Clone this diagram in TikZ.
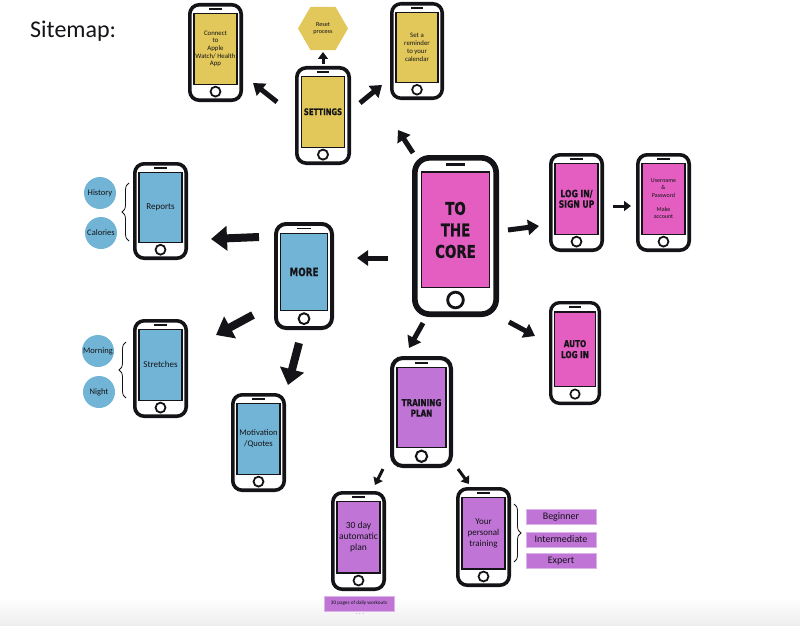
\documentclass[tikz,border=0pt]{standalone}
\usepackage{fontspec}
\setmainfont{Carlito}
\newfontfamily\impact[FakeStretch=0.85,FakeBold=0.8]{DejaVu Sans Condensed}
\usetikzlibrary{arrows.meta,shapes.geometric,decorations.pathreplacing}
\definecolor{pyellow}{HTML}{E2C75A}
\definecolor{ppink}{HTML}{E35EC0}
\definecolor{pblue}{HTML}{72B4D5}
\definecolor{ppurple}{HTML}{BF74D6}
\definecolor{ink}{HTML}{141418}
\tikzset{
  phonebody/.style={draw=ink, fill=white, inner sep=0pt},
  screen/.style={draw=ink, line width=1.2pt, inner sep=0pt, align=center, text=ink},
  medarr/.style={-{Triangle[length=11pt,width=15pt]}, line width=5pt, draw=ink},
  bigarr/.style={-{Triangle[length=16pt,width=24pt]}, line width=8pt, draw=ink},
  smallarr/.style={-{Triangle[length=7pt,width=10pt]}, line width=3pt, draw=ink},
  bubble/.style={circle, fill=pblue, minimum size=32pt, inner sep=0pt, text=ink, font=\fontsize{8.5}{10}\selectfont},
  tag/.style={rectangle, fill=ppurple, draw=ppurple!55, line width=0.8pt, minimum width=70pt, minimum height=15pt, inner sep=0pt, text=ink, font=\fontsize{10}{12}\selectfont},
  curly/.style={decorate, decoration={brace, amplitude=7pt}, draw=ink, line width=0.8pt},
}
% #1 name, #2 left, #3 top, #4 right, #5 bottom, #6 colour, #7 font, #8 text
\newcommand\phone[8]{%
  \pgfmathsetmacro\pw{#4-#2}%
  \pgfmathsetmacro\ph{#5-#3}%
  \pgfmathsetmacro\plw{0.065*\pw}%
  \pgfmathsetmacro\pwi{\pw-\plw}%
  \pgfmathsetmacro\phi{\ph-\plw}%
  \pgfmathsetmacro\prc{0.17*\pw}%
  \pgfmathsetmacro\pcx{(#2+#4)/2}%
  \pgfmathsetmacro\pcy{(#3+#5)/2}%
  \pgfmathsetmacro\psy{#3+0.4625*\ph}%
  \pgfmathsetmacro\psw{0.78*\pw}%
  \pgfmathsetmacro\psh{0.715*\ph}%
  \pgfmathsetmacro\spy{#3+0.06*\ph}%
  \pgfmathsetmacro\spl{0.11*\pw}%
  \pgfmathsetmacro\hby{#5-0.105*\ph}%
  \pgfmathsetmacro\hbs{0.18*\pw}%
  \pgfmathsetmacro\hbl{0.5*\plw}%
  \node[phonebody, line width=\plw pt, rounded corners=\prc pt, minimum width=\pwi pt, minimum height=\phi pt] (#1) at (\pcx,\pcy) {};
  \node[screen, fill=#6, minimum width=\psw pt, minimum height=\psh pt, font=#7] (#1-s) at (\pcx,\psy) {#8};
  \draw[ink, line width=\hbl pt] ({\pcx-\spl},\spy) -- ({\pcx+\spl},\spy);
  \node[circle, draw=ink, line width=\hbl pt, minimum size=\hbs pt, inner sep=0pt] (#1-h) at (\pcx,\hby) {};
}
\begin{document}
\begin{tikzpicture}[x=1pt,y=-1pt]
\useasboundingbox (0,0) rectangle (800,626);
\shade[top color=white, bottom color=black!7] (0,598) rectangle (800,626);

\node[anchor=base west, text=ink, font=\fontsize{24}{28}\selectfont, inner sep=0pt] (title) at (30,37.5) {Sitemap:};

% settings cluster
\phone{connect}{188}{3}{243}{102}{pyellow}{\fontsize{6.8}{7.6}\selectfont}{Connect\\to\\Apple\\Watch/ Health\\App}
\phone{settings}{295}{66}{351}{165}{pyellow}{\impact\bfseries\fontsize{9}{11}\selectfont}{SETTINGS}
\phone{reminder}{390}{2}{444}{100}{pyellow}{\fontsize{6.8}{7.9}\selectfont}{Set a\\reminder\\to your\\calendar}
\node[regular polygon, regular polygon sides=6, minimum size=50pt, fill=pyellow, inner sep=0pt, align=center, text=ink, font=\fontsize{6.2}{7.4}\selectfont] (reset) at (323,28.5) {Reset\\process};

% core
\phone{core}{412}{155}{499}{317}{ppink}{\impact\bfseries\fontsize{17.5}{21.5}\selectfont}{TO\\THE\\CORE}
\phone{login}{549}{153}{604}{252}{ppink}{\impact\bfseries\fontsize{10}{10.5}\selectfont}{LOG IN/\\SIGN UP}
\phone{account}{636}{153}{691}{252}{ppink}{\fontsize{6}{7.3}\selectfont}{Username\\\&\\Password\\[7.3pt]Make\\account}
\phone{auto}{549}{301}{601}{405}{ppink}{\impact\bfseries\fontsize{9.5}{11}\selectfont}{AUTO\\LOG IN}

% more cluster
\phone{reports}{133}{162}{188}{260}{pblue}{\fontsize{9}{11}\selectfont}{Reports}
\phone{more}{274}{222}{334}{330}{pblue}{\impact\bfseries\fontsize{11.5}{13}\selectfont}{MORE}
\phone{stretches}{133}{319}{188}{418}{pblue}{\fontsize{9}{11}\selectfont}{Stretches}
\phone{motiv}{231}{393}{286}{492}{pblue}{\fontsize{8.6}{10.5}\selectfont}{Motivation\\/Quotes}
\node[bubble] (history) at (100,193) {History};
\node[bubble] (calories) at (101,233) {Calories};
\node[bubble] (morning) at (98,351) {Morning};
\node[bubble] (night) at (99,392) {Night};
\coordinate (b1a) at (129,241); \coordinate (b1b) at (129,183);
\draw[curly] (b1a) -- (b1b);
\coordinate (b2a) at (126,398); \coordinate (b2b) at (126,342);
\draw[curly] (b2a) -- (b2b);

% training cluster
\phone{training}{390}{356}{453}{468}{ppurple}{\impact\bfseries\fontsize{9.5}{10.5}\selectfont}{TRAINING\\PLAN}
\phone{day30}{331}{491}{386}{591}{ppurple}{\fontsize{9.5}{11}\selectfont}{30 day\\automatic\\plan}
\phone{personal}{456}{487}{511}{587}{ppurple}{\fontsize{9}{11}\selectfont}{Your\\personal\\training}
\coordinate (b3a) at (514,504); \coordinate (b3b) at (514,562);
\draw[curly] (b3a) -- (b3b);
\node[tag] (beginner) at (561,516.5) {Beginner};
\node[tag] (intermediate) at (561,539.5) {Intermediate};
\node[tag] (expert) at (561,561) {Expert};
\node[tag, font=\fontsize{5.2}{6}\selectfont] (pages) at (359,603.5) {30 pages of daily workouts};
\node[text=ppurple!85, font=\fontsize{8}{8}\selectfont, inner sep=0pt] (dots) at (360,614) {.\,.\,.};

% arrows
\coordinate (a1t) at (413,153); \coordinate (a1h) at (398,130);
\draw[medarr] (a1t) -- (a1h);
\coordinate (a2t) at (277,102); \coordinate (a2h) at (253,83);
\draw[medarr] (a2t) -- (a2h);
\coordinate (a3t) at (360,103); \coordinate (a3h) at (382,85);
\draw[medarr] (a3t) -- (a3h);
\coordinate (a4t) at (323,64); \coordinate (a4h) at (323,52);
\draw[smallarr] (a4t) -- (a4h);
\coordinate (a5t) at (508,230); \coordinate (a5h) at (539,226);
\draw[medarr] (a5t) -- (a5h);
\coordinate (a6t) at (613,206); \coordinate (a6h) at (631,206);
\draw[smallarr] (a6t) -- (a6h);
\coordinate (a7t) at (509,322); \coordinate (a7h) at (535,336);
\draw[medarr] (a7t) -- (a7h);
\coordinate (a8t) at (388,258); \coordinate (a8h) at (357,258);
\draw[medarr] (a8t) -- (a8h);
\coordinate (a9t) at (259,237); \coordinate (a9h) at (211,239);
\draw[bigarr] (a9t) -- (a9h);
\coordinate (a10t) at (253,315); \coordinate (a10h) at (216,335);
\draw[bigarr] (a10t) -- (a10h);
\coordinate (a11t) at (299,343); \coordinate (a11h) at (288,385);
\draw[bigarr] (a11t) -- (a11h);
\coordinate (a12t) at (423,323); \coordinate (a12h) at (409,348);
\draw[medarr] (a12t) -- (a12h);
\coordinate (a13t) at (383,469); \coordinate (a13h) at (375,485);
\draw[smallarr] (a13t) -- (a13h);
\coordinate (a14t) at (458,469); \coordinate (a14h) at (469,484);
\draw[smallarr] (a14t) -- (a14h);
\end{tikzpicture}
\end{document}
